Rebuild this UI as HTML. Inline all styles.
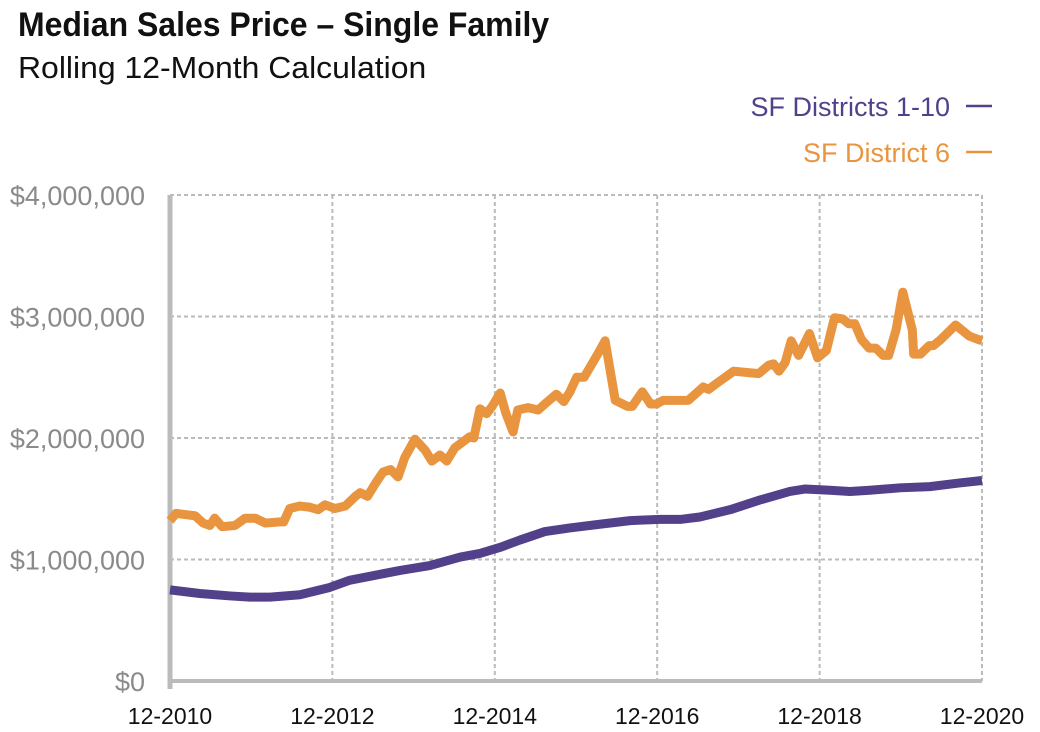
<!DOCTYPE html>
<html><head><meta charset="utf-8"><style>
body{margin:0;background:#fff;width:1040px;height:732px;overflow:hidden;font-family:"Liberation Sans",sans-serif}
.t{position:absolute;left:18px;white-space:nowrap;transform-origin:0 0}
</style></head><body>
<div class="t" style="top:6px;font-size:34px;font-weight:bold;color:#111;transform:scaleX(0.94)">Median Sales Price – Single Family</div>
<div class="t" style="top:50px;font-size:31px;color:#111;transform:scaleX(1.03)">Rolling 12-Month Calculation</div>
<svg id="c" width="1040" height="732" style="position:absolute;left:0;top:0"></svg>
<script>
const yTicks=[0,1000000,2000000,3000000,4000000];
const yTickLabels=["$0","$1,000,000","$2,000,000","$3,000,000","$4,000,000"];
const xTickMonths=[0,24,48,72,96,120];
const xTickLabels=["12-2010","12-2012","12-2014","12-2016","12-2018","12-2020"];
const seriesNames=["SF Districts 1-10","SF District 6"];
const allMonths=[0,4.4,8.9,11.8,14.8,19.2,23.6,26.6,30.3,34,38.4,42.9,45.8,48.8,51.7,55.4,59.1,63.5,68,72.4,75.4,78.3,82.8,87.2,91.6,93.8,97.5,100.5,103.4,107.9,112.3,116.7,120];
const allValues=[0.75,0.72,0.70,0.69,0.69,0.71,0.77,0.83,0.87,0.91,0.95,1.02,1.05,1.10,1.16,1.23,1.26,1.29,1.32,1.33,1.33,1.35,1.41,1.49,1.56,1.58,1.57,1.56,1.57,1.59,1.60,1.63,1.65];
const d6Months=[0,0.9,2.2,3.7,4.9,5.9,6.6,7.7,9.6,11.1,12.6,14.1,16.3,16.8,17.7,19.2,20.7,21.9,22.9,24.4,25.9,27.4,28.1,29.2,30.4,31.5,32.6,33.7,34.7,36.2,37.7,38.7,39.9,40.9,42.1,44.3,44.9,45.8,46.8,47.6,48.8,49.6,50.7,51.4,52.9,54.4,55.6,57.1,58.2,59.1,60.1,61.2,63.1,64.3,65.8,67.6,68.3,69.8,71,71.9,72.9,73.9,76.6,78.8,79.6,80.8,83.3,87,88.5,89.2,90,90.9,91.8,92.9,94.5,95.7,97,98.2,99.4,100.3,101.2,102.2,103.3,104.3,105.4,106.2,107.3,108.3,109.7,109.9,110.9,112.2,112.8,113.9,116.1,118.1,119,120];
const d6Values=[1.32,1.38,1.37,1.36,1.30,1.28,1.34,1.27,1.28,1.34,1.34,1.30,1.31,1.31,1.42,1.44,1.43,1.41,1.45,1.42,1.44,1.52,1.55,1.52,1.63,1.72,1.74,1.68,1.84,1.99,1.90,1.81,1.86,1.81,1.92,2.01,2.00,2.24,2.20,2.26,2.37,2.21,2.05,2.23,2.25,2.23,2.29,2.36,2.30,2.38,2.50,2.50,2.68,2.80,2.31,2.26,2.26,2.38,2.28,2.28,2.31,2.31,2.31,2.42,2.40,2.45,2.55,2.53,2.60,2.61,2.55,2.62,2.80,2.68,2.86,2.66,2.72,2.99,2.98,2.94,2.94,2.81,2.74,2.74,2.68,2.68,2.89,3.20,2.89,2.69,2.69,2.76,2.76,2.81,2.93,2.84,2.82,2.80];
const x0=170,x1=982,y0=681,y1=195;
const X=m=>x0+(x1-x0)*m/120;
const Y=v=>y0-(y0-y1)*v/4000000;
const svg=document.getElementById('c');const NS='http://www.w3.org/2000/svg';
function mk(t,a){const e=document.createElementNS(NS,t);for(const k in a)e.setAttribute(k,a[k]);svg.appendChild(e);return e;}
yTicks.forEach((v,i)=>{
 if(v>0){const l=mk('line',{x1:x0,x2:x1,y1:Y(v),y2:Y(v),stroke:'#bbb','stroke-width':2,'stroke-dasharray':'4,3'});
 
 }
 const t=mk('text',{x:145,y:Y(v)+10,'text-anchor':'end','font-size':27,fill:'#8a8a8a','font-family':'Liberation Sans,sans-serif'});
 
 
 t.textContent=yTickLabels[i];
});
xTickMonths.forEach((m,i)=>{
 if(m>0){const l=mk('line',{x1:X(m),x2:X(m),y1:y1,y2:y0,stroke:'#bbb','stroke-width':2,'stroke-dasharray':'4,3'});
 
 }
 const t=mk('text',{x:X(m),y:724,'text-anchor':'middle','font-size':23,fill:'#111','font-family':'Liberation Sans,sans-serif'});
 
 
 t.textContent=xTickLabels[i];
});
const ax=mk('line',{x1:x0,x2:x0,y1:y1,y2:y0+8,stroke:'#bbb','stroke-width':5});


const bx=mk('line',{x1:x0,x2:x1,y1:y0,y2:y0,stroke:'#bbb','stroke-width':4});


const pp=mk('polyline',{points:allMonths.map((m,i)=>X(m)+','+Y(allValues[i]*1e6)).join(' '),fill:'none',stroke:'#52418a','stroke-width':9,'stroke-linejoin':'round'});


const po=mk('polyline',{points:d6Months.map((m,i)=>X(m)+','+Y(d6Values[i]*1e6)).join(' '),fill:'none',stroke:'#e9943f','stroke-width':9,'stroke-linejoin':'round'});


[['#52418a',116],['#e9943f',162]].forEach((c,i)=>{
 const t=mk('text',{x:950,y:c[1],'text-anchor':'end','font-size':27,fill:c[0],'font-family':'Liberation Sans,sans-serif'});
 
 
 t.textContent=seriesNames[i];
 const l=mk('line',{x1:966,x2:992,y1:c[1]-10,y2:c[1]-10,stroke:c[0],'stroke-width':2.5});
 
 
});
</script>
</body></html>
